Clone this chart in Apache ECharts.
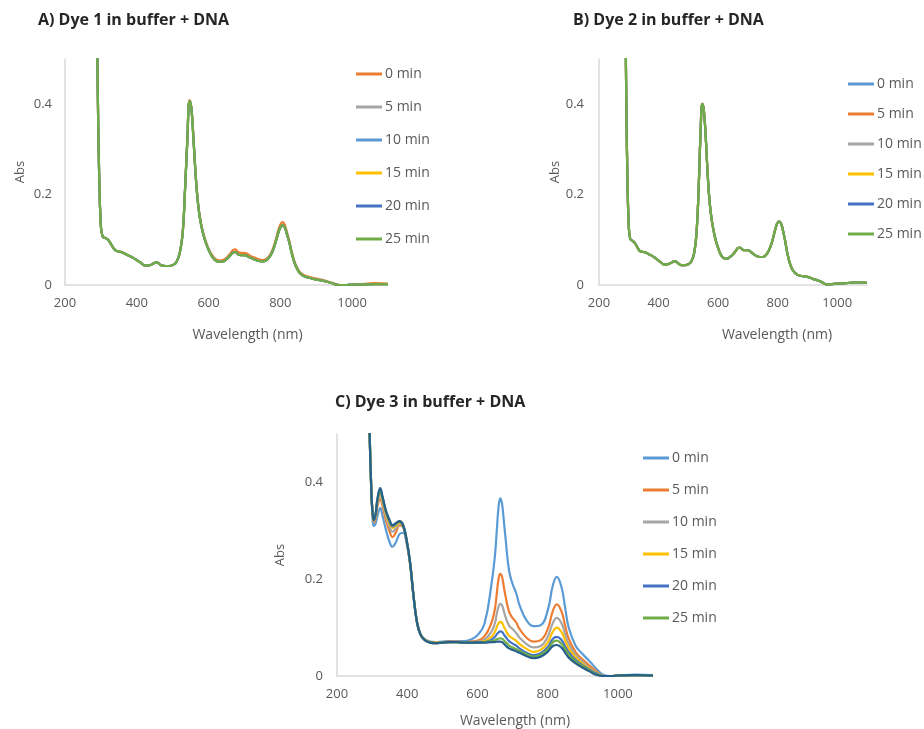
<!DOCTYPE html>
<html>
<head>
<meta charset="utf-8">
<title>Dye absorbance in buffer + DNA</title>
<script src="https://cdn.jsdelivr.net/npm/echarts@6/dist/echarts.min.js"></script>
<style>
  html, body { margin: 0; padding: 0; background: #fff; }
  #main { width: 924px; height: 729px; }
</style>
</head>
<body>
<div id="main"></div>
<script>
// wavelengths (nm)
const wlA = [289, 291, 295, 300, 305, 312, 320, 330, 340, 350, 360, 370, 380, 390, 400, 410, 420, 430, 440, 450, 456, 462, 470, 480, 490, 500, 510, 520, 528, 535, 541, 547, 552, 558, 565, 572, 580, 590, 600, 610, 620, 630, 640, 650, 660, 668, 675, 682, 690, 698, 705, 712, 720, 730, 740, 750, 760, 770, 780, 788, 795, 800, 806, 812, 818, 825, 832, 840, 848, 855, 865, 880, 900, 920, 940, 955, 965, 980, 1000, 1030, 1060, 1100]
const wlB = wlA
const wlC = [290, 293, 297, 300, 305, 310, 315, 323, 330, 340, 350, 358, 368, 378, 388, 398, 408, 418, 428, 438, 450, 465, 480, 500, 520, 540, 560, 580, 600, 620, 640, 650, 655, 660, 665, 670, 675, 680, 690, 700, 710, 720, 740, 760, 780, 800, 815, 826, 840, 850, 860, 880, 900, 920, 940, 960, 980, 1000, 1050, 1100]

// A) dye 1 : 0 min slightly above, 5-25 min lie on top of each other
const dye1_0min = [0.6, 0.45, 0.25, 0.13, 0.107, 0.104, 0.1, 0.088, 0.077, 0.074, 0.072, 0.068, 0.064, 0.06, 0.055, 0.05, 0.044, 0.043, 0.045, 0.049, 0.05, 0.047, 0.043, 0.042, 0.042, 0.044, 0.05, 0.072, 0.117, 0.222, 0.325, 0.409, 0.394, 0.325, 0.235, 0.172, 0.133, 0.102, 0.081, 0.066, 0.057, 0.054, 0.055, 0.06, 0.069, 0.077, 0.079, 0.073, 0.071, 0.071, 0.07, 0.067, 0.063, 0.06, 0.057, 0.055, 0.057, 0.065, 0.082, 0.103, 0.123, 0.133, 0.139, 0.134, 0.118, 0.098, 0.073, 0.051, 0.037, 0.028, 0.022, 0.018, 0.014, 0.011, 0.006, 0.002, 0, 0, 0.001, 0.002, 0.004, 0.003]
const dye1_later = [0.6, 0.45, 0.25, 0.13, 0.107, 0.104, 0.1, 0.088, 0.077, 0.074, 0.072, 0.068, 0.064, 0.06, 0.055, 0.05, 0.044, 0.043, 0.045, 0.049, 0.05, 0.047, 0.043, 0.042, 0.042, 0.044, 0.05, 0.072, 0.115, 0.22, 0.322, 0.407, 0.392, 0.322, 0.232, 0.17, 0.13, 0.099, 0.078, 0.063, 0.054, 0.051, 0.052, 0.057, 0.065, 0.072, 0.073, 0.068, 0.066, 0.066, 0.065, 0.062, 0.059, 0.056, 0.053, 0.052, 0.054, 0.062, 0.078, 0.098, 0.117, 0.127, 0.132, 0.128, 0.113, 0.094, 0.07, 0.048, 0.034, 0.026, 0.02, 0.016, 0.012, 0.009, 0.005, 0.001, 0, 0, 0.001, 0.001, 0.002, 0.002]

// B) dye 2 : all time points overlap
const dye2_all = [0.6, 0.45, 0.25, 0.13, 0.102, 0.098, 0.093, 0.082, 0.074, 0.073, 0.071, 0.067, 0.064, 0.059, 0.054, 0.049, 0.045, 0.046, 0.048, 0.052, 0.053, 0.05, 0.046, 0.044, 0.044, 0.046, 0.052, 0.072, 0.12, 0.22, 0.335, 0.401, 0.387, 0.332, 0.245, 0.18, 0.138, 0.104, 0.082, 0.066, 0.059, 0.058, 0.062, 0.068, 0.076, 0.082, 0.082, 0.078, 0.077, 0.077, 0.076, 0.072, 0.068, 0.064, 0.062, 0.062, 0.066, 0.076, 0.093, 0.113, 0.13, 0.138, 0.14, 0.135, 0.12, 0.098, 0.072, 0.05, 0.036, 0.029, 0.023, 0.02, 0.018, 0.013, 0.009, 0.004, 0.001, 0.002, 0.003, 0.004, 0.006, 0.005]

// C) dye 3
const dye3_0min = [0.62, 0.5, 0.4, 0.345, 0.31, 0.315, 0.33, 0.347, 0.33, 0.3, 0.276, 0.267, 0.277, 0.293, 0.296, 0.275, 0.232, 0.165, 0.112, 0.087, 0.076, 0.071, 0.07, 0.071, 0.072, 0.072, 0.072, 0.075, 0.084, 0.108, 0.19, 0.25, 0.3, 0.348, 0.367, 0.356, 0.322, 0.285, 0.218, 0.19, 0.172, 0.146, 0.115, 0.103, 0.105, 0.135, 0.188, 0.205, 0.182, 0.14, 0.1, 0.062, 0.045, 0.03, 0.014, 0.002, 0, 0.001, 0.003, 0.002]
const dye3_5min = [0.62, 0.5, 0.4, 0.35, 0.318, 0.325, 0.35, 0.365, 0.35, 0.32, 0.298, 0.287, 0.297, 0.311, 0.308, 0.28, 0.234, 0.165, 0.111, 0.086, 0.075, 0.07, 0.069, 0.07, 0.071, 0.071, 0.07, 0.071, 0.073, 0.082, 0.11, 0.14, 0.17, 0.2, 0.211, 0.205, 0.185, 0.165, 0.133, 0.12, 0.111, 0.097, 0.079, 0.071, 0.074, 0.097, 0.135, 0.148, 0.132, 0.103, 0.077, 0.049, 0.034, 0.021, 0.009, 0, 0, 0.001, 0.002, 0.002]
const dye3_10min = [0.62, 0.5, 0.4, 0.35, 0.32, 0.33, 0.357, 0.372, 0.356, 0.328, 0.307, 0.298, 0.305, 0.315, 0.31, 0.281, 0.234, 0.165, 0.11, 0.086, 0.075, 0.07, 0.069, 0.07, 0.07, 0.071, 0.07, 0.07, 0.071, 0.075, 0.092, 0.11, 0.128, 0.143, 0.149, 0.146, 0.134, 0.122, 0.104, 0.097, 0.089, 0.079, 0.066, 0.059, 0.062, 0.081, 0.11, 0.12, 0.108, 0.086, 0.066, 0.043, 0.029, 0.017, 0.007, 0, 0, 0.001, 0.002, 0.001]
const dye3_15min = [0.62, 0.5, 0.4, 0.35, 0.321, 0.332, 0.361, 0.378, 0.362, 0.333, 0.314, 0.306, 0.311, 0.317, 0.311, 0.281, 0.234, 0.165, 0.11, 0.086, 0.075, 0.07, 0.069, 0.069, 0.07, 0.07, 0.07, 0.07, 0.07, 0.072, 0.081, 0.092, 0.101, 0.109, 0.112, 0.11, 0.102, 0.095, 0.083, 0.078, 0.073, 0.066, 0.056, 0.05, 0.054, 0.069, 0.092, 0.1, 0.09, 0.073, 0.057, 0.038, 0.025, 0.015, 0.006, 0, 0, 0.001, 0.002, 0.001]
const dye3_20min = [0.62, 0.5, 0.4, 0.35, 0.322, 0.334, 0.363, 0.382, 0.366, 0.337, 0.318, 0.309, 0.314, 0.319, 0.312, 0.282, 0.235, 0.165, 0.11, 0.085, 0.074, 0.069, 0.068, 0.069, 0.07, 0.07, 0.069, 0.069, 0.07, 0.07, 0.075, 0.081, 0.086, 0.09, 0.092, 0.091, 0.086, 0.081, 0.072, 0.067, 0.063, 0.057, 0.048, 0.043, 0.047, 0.06, 0.077, 0.081, 0.074, 0.061, 0.049, 0.033, 0.022, 0.013, 0.005, 0, 0, 0.001, 0.002, 0.001]
const dye3_25min = [0.62, 0.5, 0.4, 0.35, 0.322, 0.335, 0.364, 0.385, 0.368, 0.339, 0.32, 0.311, 0.315, 0.32, 0.312, 0.282, 0.235, 0.165, 0.11, 0.085, 0.074, 0.069, 0.068, 0.069, 0.07, 0.07, 0.069, 0.069, 0.069, 0.07, 0.072, 0.074, 0.076, 0.077, 0.078, 0.077, 0.074, 0.07, 0.063, 0.059, 0.056, 0.052, 0.045, 0.04, 0.044, 0.055, 0.07, 0.073, 0.066, 0.055, 0.044, 0.03, 0.02, 0.011, 0.003, 0, 0, 0.001, 0.002, 0.001]
// extra dark trace drawn in panel C, not listed in its legend
const dye3_extra = [0.62, 0.5, 0.4, 0.35, 0.322, 0.335, 0.365, 0.388, 0.37, 0.34, 0.322, 0.312, 0.316, 0.32, 0.312, 0.282, 0.235, 0.165, 0.11, 0.085, 0.074, 0.069, 0.068, 0.069, 0.07, 0.07, 0.069, 0.069, 0.069, 0.069, 0.07, 0.07, 0.071, 0.071, 0.071, 0.07, 0.067, 0.063, 0.057, 0.054, 0.051, 0.048, 0.041, 0.037, 0.04, 0.05, 0.062, 0.064, 0.058, 0.048, 0.038, 0.026, 0.017, 0.009, 0.002, 0, 0, 0.001, 0.002, 0.001]

const timeLabels = ['0 min', '5 min', '10 min', '15 min', '20 min', '25 min']
const colorsA = ['#ED7D31', '#A5A5A5', '#5B9BD5', '#FFC000', '#4472C4', '#70AD47']
const colorsBC = ['#5B9BD5', '#ED7D31', '#A5A5A5', '#FFC000', '#4472C4', '#70AD47']
const extraColor = '#27608A'

const textFont = "'Open Sans', 'Liberation Sans', sans-serif"
const axisGray = '#D9D9D9'
const labelGray = '#595959'

const pairs = (wl, vals) => wl.map((w, i) => [w, vals[i]])

function makeSeries (panel, idx, name, wl, vals, color) {
  return {
    name: name + '|' + panel,
    type: 'line',
    xAxisIndex: idx,
    yAxisIndex: idx,
    data: pairs(wl, vals),
    showSymbol: false,
    smooth: 0.45,
    color: color,
    lineStyle: { width: 2.2, color: color }
  }
}

function xAxisFor (idx, namePad, nameGap) {
  return {
    type: 'value',
    gridIndex: idx,
    min: 200,
    max: 1100,
    interval: 200,
    name: 'Wavelength (nm)',
    nameLocation: 'middle',
    nameGap: nameGap,
    nameTextStyle: { fontFamily: textFont, fontSize: 14, color: labelGray, padding: [0, 0, 0, namePad] },
    axisLine: { show: true, onZero: false, lineStyle: { color: axisGray, width: 1.5 } },
    axisTick: { show: false },
    splitLine: { show: false },
    axisLabel: {
      showMaxLabel: false,
      margin: 12,
      fontFamily: textFont,
      fontSize: 13,
      color: labelGray,
      formatter: v => String(v)
    }
  }
}

function yAxisFor (idx, nameGap, labelMargin) {
  return {
    type: 'value',
    gridIndex: idx,
    min: 0,
    max: 0.5,
    interval: 0.2,
    name: 'Abs',
    nameLocation: 'middle',
    nameGap: nameGap,
    nameTextStyle: { fontFamily: textFont, fontSize: 13, color: labelGray },
    axisLine: { show: true, lineStyle: { color: axisGray, width: 1.5 } },
    axisTick: { show: false },
    splitLine: { show: false },
    axisLabel: { showMaxLabel: false, margin: labelMargin, fontFamily: textFont, fontSize: 13, color: labelGray }
  }
}

function legendFor (panel, left, top, gap) {
  return {
    orient: 'vertical',
    left: left,
    top: top,
    padding: 0,
    itemGap: gap,
    itemWidth: 26,
    itemHeight: 3,
    icon: 'rect',
    selectedMode: false,
    data: timeLabels.map(t => t + '|' + panel),
    formatter: n => n.split('|')[0],
    textStyle: { fontFamily: textFont, fontSize: 14, color: labelGray, lineHeight: 18, padding: [0, 0, 0, -2] }
  }
}

const seriesList = []
const laterA = [dye1_later, dye1_later, dye1_later, dye1_later, dye1_later]
seriesList.push(makeSeries('A', 0, timeLabels[0], wlA, dye1_0min, colorsA[0]))
laterA.forEach((vals, i) => seriesList.push(makeSeries('A', 0, timeLabels[i + 1], wlA, vals, colorsA[i + 1])))
timeLabels.forEach((t, i) => seriesList.push(makeSeries('B', 1, t, wlB, dye2_all, colorsBC[i])))
const dye3 = [dye3_0min, dye3_5min, dye3_10min, dye3_15min, dye3_20min, dye3_25min]
dye3.forEach((vals, i) => seriesList.push(makeSeries('C', 2, timeLabels[i], wlC, vals, colorsBC[i])))
seriesList.push(makeSeries('C', 2, 'extra', wlC, dye3_extra, extraColor))

const titleStyle = { fontFamily: textFont, fontSize: 16, fontWeight: 'bold', color: '#262626' }

const option = {
  animation: false,
  backgroundColor: '#ffffff',
  title: [
    { text: 'A) Dye 1 in buffer + DNA', left: 38, top: 12, padding: 0, textStyle: titleStyle },
    { text: 'B) Dye 2 in buffer + DNA', left: 573, top: 12, padding: 0, textStyle: titleStyle },
    { text: 'C) Dye 3 in buffer + DNA', left: 335, top: 394, padding: 0, textStyle: titleStyle }
  ],
  grid: [
    { left: 65, top: 59, width: 323, height: 226 },
    { left: 599, top: 59, width: 268, height: 226 },
    { left: 337, top: 434, width: 316, height: 242 }
  ],
  xAxis: [xAxisFor(0, 42, 43), xAxisFor(1, 88, 43), xAxisFor(2, 40, 38)],
  yAxis: [yAxisFor(0, 38, 13), yAxisFor(1, 37, 15), yAxisFor(2, 50, 14)],
  legend: [
    legendFor('A', 356, 65, 15),
    legendFor('B', 848, 75, 12),
    legendFor('C', 643, 449, 14)
  ],
  series: seriesList
}

const myChart = echarts.init(document.getElementById('main'))
myChart.setOption(option)
window.addEventListener('resize', () => {
  myChart.resize()
})
</script>
</body>
</html>
